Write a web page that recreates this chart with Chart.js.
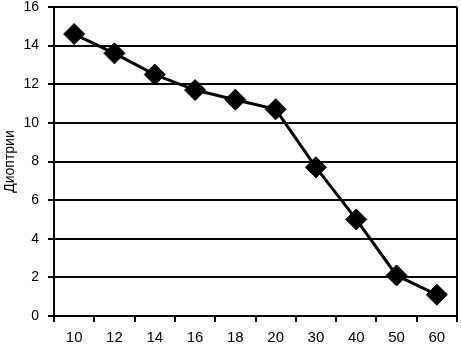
<!DOCTYPE html>
<html>
<head>
<meta charset="utf-8">
<script src="https://cdn.jsdelivr.net/npm/chart.js@4.4.0/dist/chart.umd.min.js"></script>
<style>
  html, body { margin: 0; padding: 0; background: #fff; }
  #wrap { width: 461px; height: 345px; }
</style>
</head>
<body>
<div id="wrap"><canvas id="myChart"></canvas></div>
<script>
// возраст (годы) и аккомодация (диоптрии)
var ages = ['10', '12', '14', '16', '18', '20', '30', '40', '50', '60'];
var diopters = [14.6, 13.6, 12.5, 11.7, 11.2, 10.7, 7.7, 5.0, 2.1, 1.1];
var yMin = 0, yMax = 16, yStep = 2;
var yTitle = 'Диоптрии';

// рамка справа
var rightBorder = {
    id: 'rightBorder',
    afterDraw: function(chart) {
        var c = chart.ctx, a = chart.chartArea;
        c.save();
        c.strokeStyle = '#000';
        c.lineWidth = 2;
        c.beginPath();
        c.moveTo(a.right, a.top);
        c.lineTo(a.right, a.bottom);
        c.stroke();
        c.restore();
    }
};

var ctx = document.getElementById('myChart').getContext('2d');
var chart = new Chart(ctx, {
    type: 'line',
    data: {
        labels: ages,
        datasets: [{
            data: diopters,
            borderColor: '#000',
            borderWidth: 3,
            backgroundColor: '#000',
            pointStyle: 'rectRot',
            pointRadius: 10.5,
            pointBackgroundColor: '#000',
            pointBorderColor: '#000',
            pointBorderWidth: 1,
            tension: 0
        }]
    },
    plugins: [rightBorder],
    options: {
        responsive: true,
        maintainAspectRatio: false,
        animation: false,
        layout: { autoPadding: false, padding: { top: 7, right: 4, left: 0, bottom: 0 } },
        plugins: {
            legend: { display: false },
            tooltip: { enabled: false }
        },
        scales: {
            x: {
                offset: true,
                grid: {
                    offset: true,
                    drawOnChartArea: false,
                    color: '#000',
                    lineWidth: 2,
                    tickLength: 6
                },
                border: { color: '#000', width: 2 },
                ticks: {
                    color: '#000',
                    padding: 7,
                    font: { family: 'Liberation Sans', size: 15 },
                    maxRotation: 0,
                    autoSkip: false
                },
                afterFit: function(scale) {
                    scale.height = 29;
                    scale.paddingLeft = 0;
                    scale.paddingRight = 0;
                }
            },
            y: {
                min: yMin,
                max: yMax,
                grid: {
                    color: '#000',
                    lineWidth: 2,
                    tickLength: 6
                },
                border: { color: '#000', width: 2 },
                ticks: {
                    stepSize: yStep,
                    color: '#000',
                    padding: 9,
                    font: { family: 'Liberation Sans', size: 14 }
                },
                title: {
                    display: true,
                    text: yTitle,
                    color: '#000',
                    padding: { top: 2, bottom: 0 },
                    font: { family: 'Liberation Sans', size: 14 }
                },
                afterFit: function(scale) {
                    scale.width = 54;
                    scale.paddingTop = 0;
                    scale.paddingBottom = 0;
                }
            }
        }
    }
});
</script>
</body>
</html>
